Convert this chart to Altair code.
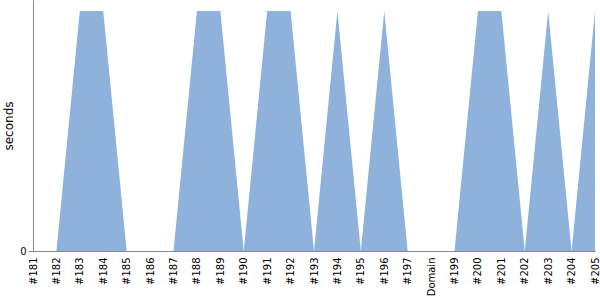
import altair as alt
import pandas as pd

builds = ["#181", "#182", "#183", "#184", "#185", "#186", "#187", "#188", "#189",
          "#190", "#191", "#192", "#193", "#194", "#195", "#196", "#197", "Domain",
          "#199", "#200", "#201", "#202", "#203", "#204", "#205"]
seconds = [0, 0, 1, 1, 0, 0, 0, 1, 1, 0, 1, 1, 0, 1, 0, 1, 0, 0, 0, 1, 1, 0, 1, 0, 1]

df = pd.DataFrame({"build": builds, "seconds": seconds})

chart = alt.Chart(df).mark_area(color="#8fb2dc", opacity=1).encode(
    x=alt.X("build:N", sort=builds, title=None,
            scale=alt.Scale(type="point", padding=0),
            axis=alt.Axis(labelAngle=-90, ticks=False, labelPadding=6, domainColor="#888",
                          labelFont="DejaVu Sans", labelFontSize=10, labelColor="#000")),
    y=alt.Y("seconds:Q", title="seconds", stack=None,
            scale=alt.Scale(domain=[0, 1.046], nice=False),
            axis=alt.Axis(values=[0], grid=False, domainColor="#888", tickColor="#888",
                          labelFont="DejaVu Sans", labelFontSize=10, labelColor="#000",
                          titleFont="DejaVu Sans", titleFontSize=12, titleFontWeight="normal",
                          titleColor="#000")),
).properties(
    width=562, height=251,
    autosize=alt.AutoSizeParams(type="none"),
    padding={"left": 33, "top": 0, "right": 5, "bottom": 49},
).configure_view(stroke=None)

chart.save("out.html", embed_options={"renderer": "svg", "actions": False})
